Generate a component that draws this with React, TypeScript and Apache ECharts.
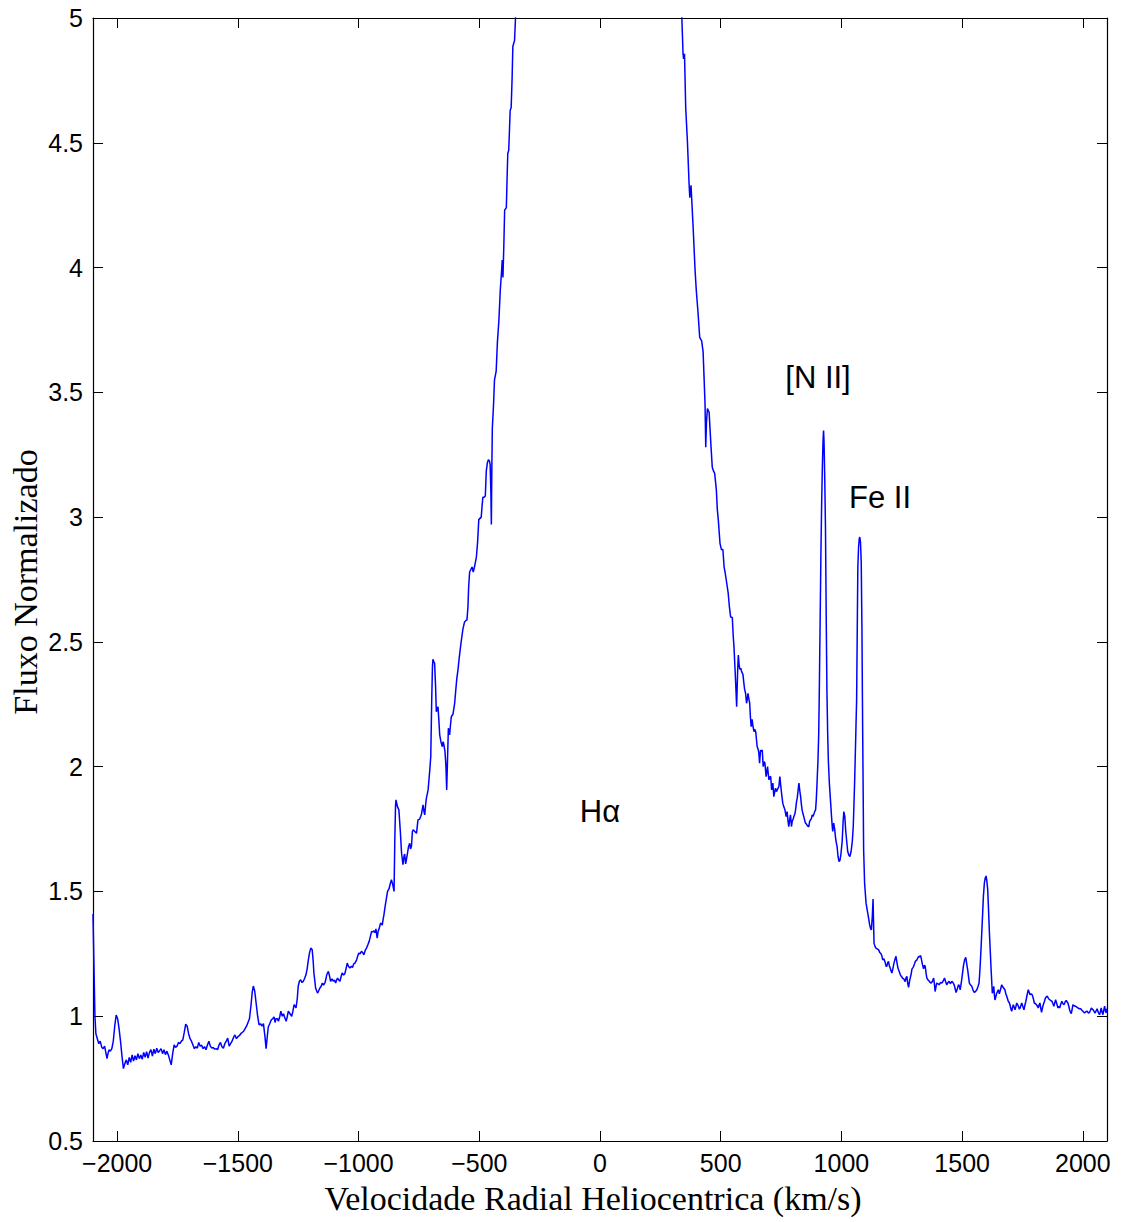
import React, { useEffect, useRef } from "react";
import * as echarts from "echarts";

// Normalised H-alpha profile, [radial velocity (km/s), normalised flux]
const blueContinuum: number[][] = [
  [-2100, 1.41], [-2096, 1.2], [-2092, 1.0], [-2088, 0.93], [-2082, 0.91], [-2076, 0.89], [-2070, 0.9],
  [-2064, 0.876], [-2058, 0.87], [-2052, 0.88], [-2046, 0.85], [-2042, 0.83], [-2038, 0.85], [-2034, 0.865],
  [-2028, 0.86], [-2022, 0.87], [-2016, 0.9], [-2010, 0.96], [-2004, 1.005], [-1998, 0.99], [-1992, 0.95],
  [-1986, 0.9], [-1980, 0.84], [-1974, 0.79], [-1968, 0.81], [-1962, 0.825], [-1956, 0.805], [-1950, 0.835],
  [-1944, 0.815], [-1938, 0.845], [-1932, 0.82], [-1926, 0.842], [-1920, 0.825], [-1914, 0.85], [-1908, 0.83],
  [-1902, 0.845], [-1896, 0.828], [-1890, 0.855], [-1884, 0.835], [-1878, 0.858], [-1872, 0.832], [-1866, 0.855],
  [-1860, 0.866], [-1854, 0.84], [-1848, 0.868], [-1842, 0.85], [-1836, 0.872], [-1830, 0.855], [-1824, 0.862],
  [-1818, 0.87], [-1812, 0.85], [-1806, 0.866], [-1800, 0.846], [-1794, 0.86], [-1788, 0.845], [-1782, 0.825],
  [-1776, 0.805], [-1770, 0.85], [-1764, 0.885], [-1758, 0.875], [-1752, 0.88], [-1746, 0.895], [-1740, 0.89],
  [-1734, 0.9], [-1728, 0.905], [-1722, 0.935], [-1716, 0.968], [-1710, 0.96], [-1704, 0.93], [-1698, 0.91],
  [-1692, 0.9], [-1686, 0.885], [-1680, 0.87], [-1674, 0.878], [-1668, 0.872], [-1662, 0.895], [-1656, 0.88],
  [-1650, 0.884], [-1644, 0.87], [-1638, 0.878], [-1632, 0.866], [-1626, 0.885], [-1620, 0.9], [-1614, 0.88],
  [-1608, 0.872], [-1602, 0.875], [-1596, 0.868], [-1590, 0.87], [-1584, 0.866], [-1578, 0.885], [-1572, 0.895],
  [-1566, 0.878], [-1560, 0.872], [-1554, 0.89], [-1548, 0.9], [-1542, 0.912], [-1536, 0.88], [-1530, 0.89],
  [-1524, 0.9], [-1518, 0.915], [-1512, 0.925], [-1506, 0.91], [-1500, 0.918], [-1494, 0.922], [-1488, 0.93],
  [-1482, 0.935], [-1476, 0.94], [-1470, 0.95], [-1464, 0.96], [-1458, 0.975], [-1452, 0.99], [-1446, 1.04],
  [-1440, 1.1], [-1436, 1.121], [-1430, 1.1], [-1424, 1.05], [-1418, 1.0], [-1412, 0.965], [-1406, 0.97],
  [-1400, 0.96], [-1394, 0.97], [-1388, 0.92], [-1383, 0.87], [-1378, 0.92], [-1374, 0.957], [-1368, 0.97],
  [-1362, 0.985], [-1356, 0.99], [-1350, 0.997], [-1346, 0.975], [-1342, 0.99], [-1336, 0.99], [-1332, 0.98],
  [-1326, 1.0], [-1322, 1.02], [-1316, 1.0], [-1311, 1.01], [-1306, 0.995], [-1300, 0.98], [-1295, 1.0],
  [-1291, 1.02], [-1284, 1.01], [-1277, 1.0], [-1272, 1.02], [-1267, 1.046], [-1263, 1.04], [-1259, 1.033],
  [-1254, 1.07], [-1250, 1.12], [-1245, 1.14], [-1240, 1.146], [-1234, 1.135], [-1229, 1.14], [-1224, 1.15],
  [-1218, 1.166], [-1213, 1.19], [-1208, 1.226], [-1203, 1.255], [-1198, 1.273], [-1192, 1.266], [-1188, 1.22],
  [-1185, 1.173], [-1181, 1.14], [-1178, 1.113], [-1173, 1.1], [-1169, 1.093], [-1164, 1.105], [-1160, 1.113],
  [-1155, 1.12], [-1150, 1.133], [-1145, 1.125], [-1139, 1.135], [-1135, 1.15], [-1132, 1.166], [-1125, 1.18],
  [-1120, 1.16], [-1116, 1.14], [-1110, 1.15], [-1105, 1.14], [-1100, 1.145], [-1095, 1.133], [-1091, 1.145],
  [-1087, 1.153], [-1082, 1.145], [-1077, 1.14], [-1072, 1.16], [-1068, 1.173], [-1062, 1.165], [-1057, 1.17],
  [-1052, 1.19], [-1047, 1.213], [-1042, 1.2], [-1036, 1.193], [-1030, 1.2], [-1025, 1.195], [-1020, 1.21],
  [-1015, 1.213], [-1008, 1.226], [-1004, 1.24], [-999, 1.253], [-994, 1.25], [-988, 1.26], [-983, 1.255],
  [-978, 1.246], [-972, 1.265], [-967, 1.273], [-962, 1.285], [-956, 1.3], [-951, 1.32], [-946, 1.34],
  [-941, 1.338], [-936, 1.342], [-932, 1.335], [-928, 1.35], [-923, 1.313], [-919, 1.34], [-915, 1.35],
  [-909, 1.373], [-905, 1.37], [-902, 1.365], [-898, 1.39], [-895, 1.406], [-890, 1.44],
];

const blueWing: number[][] = [
  [-885, 1.47], [-880, 1.5], [-874, 1.51], [-869, 1.53], [-864, 1.547], [-859, 1.53], [-853, 1.5],
  [-850, 1.7], [-847, 1.84], [-845, 1.867], [-839, 1.84], [-833, 1.827], [-827, 1.74], [-822, 1.654],
  [-816, 1.607], [-812, 1.64], [-809, 1.65], [-805, 1.61], [-802, 1.627], [-798, 1.65], [-793, 1.68],
  [-788, 1.693], [-785, 1.67], [-781, 1.68], [-777, 1.74], [-774, 1.747], [-767, 1.74], [-760, 1.733],
  [-754, 1.787], [-747, 1.79], [-740, 1.807], [-733, 1.847], [-729, 1.82], [-726, 1.807], [-722, 1.85],
  [-719, 1.874], [-712, 1.907], [-705, 1.987], [-701, 2.04], [-697, 2.267], [-694, 2.4], [-692, 2.43],
  [-688, 2.42], [-685, 2.414], [-681, 2.32], [-678, 2.22], [-675, 2.23], [-671, 2.24], [-667, 2.18],
  [-664, 2.127], [-659, 2.1], [-653, 2.08], [-650, 2.1], [-647, 2.09], [-642, 2.06], [-638, 2.0],
  [-635, 1.907], [-631, 2.05], [-628, 2.154], [-623, 2.127], [-619, 2.17], [-616, 2.2], [-609, 2.21],
  [-602, 2.254], [-598, 2.3], [-593, 2.354], [-588, 2.39], [-584, 2.428], [-579, 2.47], [-574, 2.508],
  [-568, 2.55], [-561, 2.58], [-556, 2.585], [-551, 2.588], [-547, 2.64], [-544, 2.72], [-540, 2.78],
  [-535, 2.79], [-530, 2.8], [-525, 2.78], [-520, 2.8], [-516, 2.82], [-512, 2.84], [-507, 2.9],
  [-502, 2.99], [-497, 2.995], [-492, 3.0], [-488, 3.05], [-485, 3.08], [-480, 3.08], [-475, 3.085],
  [-471, 3.185], [-466, 3.22], [-462, 3.23], [-458, 3.225], [-455, 3.21], [-452, 3.1], [-450, 2.97],
  [-448, 3.2], [-446, 3.355], [-441, 3.45], [-437, 3.55], [-430, 3.585], [-425, 3.7], [-419, 3.785],
  [-413, 3.91], [-408, 3.98], [-405, 4.03], [-402, 3.96], [-398, 4.1], [-395, 4.23], [-388, 4.24],
  [-385, 4.35], [-382, 4.457], [-378, 4.47], [-375, 4.55], [-372, 4.63], [-368, 4.64], [-364, 4.76],
  [-361, 4.886], [-354, 4.91], [-350, 5.0],
];

// Line core, above the plotted flux range
const lineCore: number[][] = [
  [-330, 5.4], [-280, 6.2], [-220, 7.1], [-150, 7.8], [-80, 8.2], [0, 8.35], [80, 8.2],
  [150, 7.7], [220, 6.9], [280, 6.0], [320, 5.35], [339, 5.0],
];

const redWing: number[][] = [
  [344, 4.857], [346, 4.836], [350, 4.857], [355, 4.64], [362, 4.507], [369, 4.335], [372, 4.28],
  [377, 4.33], [386, 4.156], [394, 3.985], [399, 3.906], [406, 3.82], [413, 3.72], [421, 3.706],
  [427, 3.663], [431, 3.56], [435, 3.455], [438, 3.28], [441, 3.38], [445, 3.435], [452, 3.42],
  [456, 3.348], [460, 3.28], [465, 3.2], [470, 3.185], [475, 3.175], [482, 3.108], [486, 3.03],
  [490, 2.989], [497, 2.895], [503, 2.87], [509, 2.87], [514, 2.8], [518, 2.78], [523, 2.748],
  [531, 2.695], [536, 2.64], [541, 2.6], [548, 2.598], [552, 2.52], [555, 2.48], [562, 2.334],
  [566, 2.24], [570, 2.38], [573, 2.447], [576, 2.41], [579, 2.39], [583, 2.395], [587, 2.38],
  [592, 2.37], [596, 2.334], [599, 2.31], [603, 2.294], [607, 2.254], [610, 2.27], [613, 2.294],
  [617, 2.27], [620, 2.254], [623, 2.2], [626, 2.16], [630, 2.19], [634, 2.16], [638, 2.14],
  [641, 2.15], [645, 2.14], [648, 2.11], [651, 2.08], [655, 2.07], [658, 2.054], [661, 2.014],
  [665, 2.067], [668, 2.06], [672, 2.067], [676, 2.0], [680, 2.02], [683, 2.014], [688, 1.96],
  [691, 1.98], [694, 2.0], [697, 1.97], [700, 1.947], [704, 1.96], [707, 1.96], [711, 1.907],
  [716, 1.934], [720, 1.88], [724, 1.9], [727, 1.914], [731, 1.9], [734, 1.907], [738, 1.915],
  [741, 1.92], [745, 1.96], [748, 1.93], [752, 1.894], [757, 1.854], [761, 1.84], [766, 1.827],
  [771, 1.8], [775, 1.82], [779, 1.78], [782, 1.76], [786, 1.79], [789, 1.807], [793, 1.76],
  [796, 1.78], [800, 1.79], [803, 1.8], [807, 1.81], [810, 1.827], [814, 1.86], [817, 1.874],
  [821, 1.91], [824, 1.934], [828, 1.9], [831, 1.88], [834, 1.85], [837, 1.827], [841, 1.81],
  [844, 1.8], [848, 1.785], [851, 1.774], [855, 1.77], [858, 1.765], [862, 1.76], [865, 1.76],
  [868, 1.78], [872, 1.787], [875, 1.79], [879, 1.807], [882, 1.8], [886, 1.81], [889, 1.82],
  [893, 1.827], [896, 1.87], [899, 1.934],
];

// [N II] and Fe II emission lines on the red wing
const forbiddenLines: number[][] = [
  [903, 2.03], [906, 2.134], [909, 2.35], [912, 2.6], [915, 2.85], [918, 3.05], [921, 3.2],
  [924, 3.31], [926, 3.347], [928, 3.3], [931, 3.15], [934, 2.95], [937, 2.6], [940, 2.3],
  [943, 2.134], [946, 2.02], [950, 1.934], [955, 1.86], [959, 1.8], [962, 1.76], [964, 1.74],
  [966, 1.76], [968, 1.774], [972, 1.75], [975, 1.72], [978, 1.7], [982, 1.68], [986, 1.64],
  [990, 1.62], [994, 1.625], [998, 1.65], [1003, 1.7], [1007, 1.78], [1010, 1.82], [1014, 1.8],
  [1018, 1.74], [1022, 1.7], [1026, 1.66], [1031, 1.645], [1035, 1.64], [1040, 1.66], [1045, 1.7],
  [1049, 1.76], [1052, 1.85], [1055, 1.95], [1060, 2.15], [1063, 2.27], [1066, 2.6], [1068, 2.8],
  [1071, 2.88], [1074, 2.915], [1076, 2.92], [1079, 2.9], [1082, 2.82], [1085, 2.55], [1087, 2.27],
  [1090, 1.9], [1092, 1.667], [1096, 1.533], [1102, 1.453], [1109, 1.413], [1113, 1.39], [1117, 1.366],
  [1121, 1.35], [1124, 1.346], [1128, 1.4], [1131, 1.47], [1133, 1.38], [1135, 1.293],
];

const redContinuum: number[][] = [
  [1139, 1.28], [1143, 1.273], [1148, 1.27], [1154, 1.266], [1159, 1.255], [1164, 1.25], [1168, 1.24],
  [1171, 1.226], [1176, 1.23], [1182, 1.213], [1185, 1.2], [1188, 1.2], [1192, 1.215], [1195, 1.22],
  [1199, 1.2], [1202, 1.193], [1206, 1.18], [1209, 1.173], [1213, 1.19], [1216, 1.206], [1221, 1.225],
  [1226, 1.24], [1230, 1.215], [1234, 1.193], [1239, 1.18], [1244, 1.166], [1248, 1.16], [1253, 1.153],
  [1258, 1.15], [1264, 1.139], [1268, 1.155], [1271, 1.16], [1275, 1.13], [1278, 1.116], [1282, 1.14],
  [1285, 1.153], [1289, 1.17], [1292, 1.189], [1296, 1.195], [1299, 1.2], [1303, 1.21], [1306, 1.219],
  [1310, 1.224], [1313, 1.226], [1317, 1.235], [1320, 1.24], [1324, 1.238], [1328, 1.243], [1331, 1.23],
  [1335, 1.21], [1340, 1.19], [1344, 1.205], [1347, 1.2], [1351, 1.17], [1354, 1.153], [1359, 1.145],
  [1364, 1.14], [1368, 1.135], [1372, 1.133], [1377, 1.14], [1382, 1.153], [1385, 1.13], [1388, 1.099],
  [1392, 1.12], [1395, 1.133], [1400, 1.13], [1405, 1.126], [1410, 1.135], [1416, 1.133], [1421, 1.14],
  [1427, 1.153], [1431, 1.14], [1436, 1.126], [1441, 1.135], [1446, 1.14], [1451, 1.13], [1457, 1.14],
  [1462, 1.135], [1467, 1.126], [1471, 1.11], [1475, 1.095], [1480, 1.11], [1485, 1.126], [1489, 1.12],
  [1492, 1.106], [1495, 1.125], [1498, 1.146], [1502, 1.175], [1505, 1.2], [1510, 1.225], [1515, 1.236],
  [1519, 1.21], [1523, 1.186], [1527, 1.155], [1530, 1.133], [1535, 1.125], [1540, 1.12], [1545, 1.105],
  [1551, 1.095], [1556, 1.1], [1561, 1.106], [1566, 1.12], [1570, 1.133], [1574, 1.19], [1578, 1.266],
  [1582, 1.35], [1585, 1.413], [1588, 1.48], [1592, 1.533], [1596, 1.555], [1599, 1.562], [1602, 1.545],
  [1606, 1.506], [1610, 1.41], [1613, 1.333], [1617, 1.25], [1620, 1.186], [1623, 1.13], [1625, 1.092],
  [1628, 1.1], [1631, 1.12], [1634, 1.08], [1636, 1.065], [1640, 1.08], [1643, 1.092], [1647, 1.1],
  [1650, 1.106], [1654, 1.09], [1657, 1.1], [1661, 1.115], [1664, 1.126], [1668, 1.118], [1670, 1.12],
  [1674, 1.11], [1677, 1.106], [1681, 1.09], [1685, 1.079], [1688, 1.07], [1691, 1.06], [1695, 1.055],
  [1698, 1.046], [1702, 1.03], [1705, 1.02], [1709, 1.035], [1712, 1.046], [1716, 1.035], [1719, 1.026],
  [1723, 1.04], [1726, 1.053], [1730, 1.045], [1733, 1.04], [1737, 1.028], [1740, 1.033], [1744, 1.045],
  [1747, 1.053], [1751, 1.04], [1756, 1.026], [1760, 1.045], [1764, 1.06], [1769, 1.085], [1774, 1.106],
  [1778, 1.095], [1781, 1.086], [1786, 1.09], [1790, 1.086], [1795, 1.07], [1799, 1.053], [1804, 1.05],
  [1808, 1.046], [1812, 1.04], [1815, 1.033], [1819, 1.045], [1822, 1.053], [1826, 1.03], [1829, 1.016],
  [1833, 1.035], [1836, 1.046], [1841, 1.06], [1845, 1.073], [1849, 1.078], [1853, 1.08], [1858, 1.07],
  [1863, 1.066], [1868, 1.062], [1872, 1.06], [1876, 1.05], [1880, 1.04], [1884, 1.055], [1887, 1.066],
  [1892, 1.05], [1897, 1.033], [1900, 1.04], [1904, 1.033], [1909, 1.05], [1913, 1.06], [1918, 1.05],
  [1922, 1.046], [1927, 1.058], [1931, 1.063], [1935, 1.057], [1938, 1.053], [1942, 1.04], [1945, 1.026],
  [1949, 1.015], [1952, 1.01], [1956, 1.03], [1959, 1.046], [1964, 1.042], [1969, 1.04], [1975, 1.036],
  [1980, 1.033], [1986, 1.03], [1991, 1.03], [1996, 1.024], [2000, 1.02], [2004, 1.016], [2007, 1.013],
  [2012, 1.018], [2018, 1.02], [2023, 1.012], [2028, 1.016], [2032, 1.025], [2035, 1.033], [2039, 1.028],
  [2042, 1.026], [2047, 1.018], [2051, 1.013], [2055, 1.022], [2059, 1.03], [2064, 1.015], [2069, 1.006],
  [2073, 1.02], [2076, 1.033], [2080, 1.015], [2083, 1.006], [2087, 1.025], [2090, 1.04], [2094, 1.02],
  [2097, 1.013], [2100, 1.03],
];

const velocityTicks = [-2000, -1500, -1000, -500, 0, 500, 1000, 1500, 2000];
const fluxTicks = [0.5, 1, 1.5, 2, 2.5, 3, 3.5, 4, 4.5, 5];

const lineLabels = [
  { text: "[N II]", x: 818, y: 377 },
  { text: "Fe II", x: 880, y: 497 },
  { text: "H\u03b1", x: 600, y: 811 },
];

const SANS = "'Liberation Sans', Arial, Helvetica, sans-serif";
const SERIF = "'Liberation Serif', 'Times New Roman', serif";

export default function App() {
  const ref = useRef<HTMLDivElement>(null);

  useEffect(() => {
    if (!ref.current) return;
    const chart = echarts.init(ref.current, null, { renderer: "svg" });
    const spectrum = [
      ...blueContinuum, ...blueWing, ...lineCore, ...redWing, ...forbiddenLines, ...redContinuum,
    ];
    const axisLine = { show: true, onZero: false, lineStyle: { color: "#000", width: 1.2 } };
    const tick = { show: true, inside: true, length: 10, lineStyle: { color: "#000", width: 1 } };
    const labelStyle = { color: "#000", fontFamily: SANS, fontSize: 25 };

    chart.setOption({
      animation: false,
      backgroundColor: "#fff",
      grid: { left: 93, top: 18, right: 15, bottom: 81, containLabel: false },
      xAxis: [
        {
          type: "value", min: -2100, max: 2100, position: "bottom",
          axisLine, splitLine: { show: false },
          axisTick: { ...tick, customValues: velocityTicks },
          axisLabel: {
            ...labelStyle, margin: 9, customValues: velocityTicks,
            formatter: (v: number) => String(v).replace("-", "\u2212"),
          },
        },
        {
          type: "value", min: -2100, max: 2100, position: "top",
          axisLine, splitLine: { show: false },
          axisTick: { ...tick, customValues: velocityTicks },
          axisLabel: { show: false },
        },
      ],
      yAxis: [
        {
          type: "value", min: 0.5, max: 5, interval: 0.5, position: "left",
          axisLine, splitLine: { show: false },
          axisTick: { ...tick, customValues: fluxTicks },
          axisLabel: { ...labelStyle, margin: 10, customValues: fluxTicks },
        },
        {
          type: "value", min: 0.5, max: 5, interval: 0.5, position: "right",
          axisLine, splitLine: { show: false },
          axisTick: { ...tick, customValues: fluxTicks },
          axisLabel: { show: false },
        },
      ],
      series: [
        {
          type: "line",
          data: spectrum,
          xAxisIndex: 0,
          yAxisIndex: 0,
          showSymbol: false,
          symbol: "none",
          clip: true,
          lineStyle: { color: "#0000ff", width: 1.5 },
        },
      ],
      graphic: [
        ...lineLabels.map((l) => ({
          type: "text",
          x: l.x,
          y: l.y,
          style: {
            text: l.text, fill: "#000", font: `31px ${SANS}`,
            textAlign: "center", textVerticalAlign: "middle",
          },
        })),
        {
          type: "text", x: 593, y: 1198,
          style: {
            text: "Velocidade Radial Heliocentrica (km/s)", fill: "#000",
            font: `34px ${SERIF}`, textAlign: "center", textVerticalAlign: "middle",
          },
        },
        {
          type: "text", x: 25, y: 582, rotation: Math.PI / 2,
          style: {
            text: "Fluxo Normalizado", fill: "#000",
            font: `34px ${SERIF}`, textAlign: "center", textVerticalAlign: "middle",
          },
        },
      ],
    });
    return () => chart.dispose();
  }, []);

  return (
    <div
      ref={ref}
      style={{ position: "absolute", left: 0, top: 0, width: 1122, height: 1222, background: "#fff" }}
    />
  );
}
